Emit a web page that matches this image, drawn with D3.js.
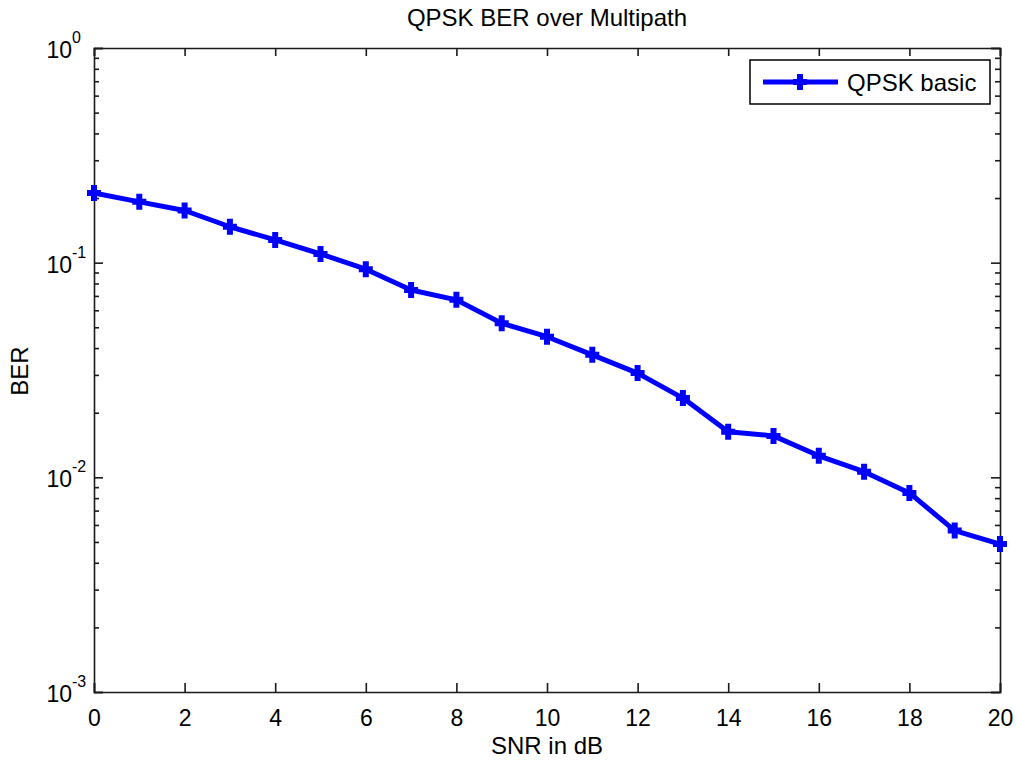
<!DOCTYPE html>
<html>
<head>
<meta charset="utf-8">
<script src="https://cdn.jsdelivr.net/npm/d3@7"></script>
<style>
  body { margin: 0; background: #fff; }
  text { font-family: "Liberation Sans", Arial, sans-serif; fill: #000; }
  .axis path, .axis line { stroke: #1a1a1a; }
</style>
</head>
<body>
<div id="chart"></div>
<script>
var width = 1017;
var height = 761;
var margin = {top:48,left:94,right:17,bottom:69};

// data
var snr = [0,1,2,3,4,5,6,7,8,9,10,11,12,13,14,15,16,17,18,19,20];
var ber = [0.211,0.192,0.175,0.147,0.1276,0.1098,0.0932,0.0746,0.0671,0.0522,0.0452,
           0.0372,0.0306,0.0234,0.0163,0.0156,0.0126,0.01063,0.00846,0.00565,0.00489];
var xTicks = [0,2,4,6,8,10,12,14,16,18,20];
var yTicks = [1e-3,1e-2,1e-1,1];
var yTickExp = ["-3","-2","-1","0"];
var seriesName = "QPSK basic";

var svg = d3.select("#chart")
  .append("svg")
  .attr("width",width)
  .attr("height",height);

var xScale = d3.scaleLinear()
  .domain([0,20])
  .range([margin.left,width-margin.right]);

var yScale = d3.scaleLog()
  .domain([1e-3,1])
  .range([height-margin.bottom,margin.top]);

// minor ticks on the log axis
var yMinor = [];
yTicks.slice(0,-1).forEach(function(d) {
  for (var k = 2; k <= 9; k++) yMinor.push(d*k);
});

// bottom axis with labels
svg.append("g")
  .attr("class","axis")
  .attr("transform",`translate(0,${height-margin.bottom})`)
  .call(d3.axisBottom(xScale).tickValues(xTicks).tickSize(-9).tickPadding(18).tickFormat(d3.format("d")))
  .call(g => g.selectAll("text").style("font-size","23px"));

// top axis ticks
svg.append("g")
  .attr("class","axis")
  .attr("transform",`translate(0,${margin.top})`)
  .call(d3.axisTop(xScale).tickValues(xTicks).tickSize(-8).tickFormat(""));

// left/right major + minor ticks
[["L",margin.left],["R",width-margin.right]].forEach(function(s) {
  var ax = s[0] == "L" ? d3.axisLeft : d3.axisRight;
  svg.append("g")
    .attr("class","axis")
    .attr("transform",`translate(${s[1]},0)`)
    .call(ax(yScale).tickValues(yTicks).tickSize(-9).tickFormat(""));
  svg.append("g")
    .attr("class","axis")
    .attr("transform",`translate(${s[1]},0)`)
    .call(ax(yScale).tickValues(yMinor).tickSize(-5).tickFormat(""))
    .call(g => g.select(".domain").remove());
});

svg.selectAll(".axis path, .axis line").attr("stroke-width",1.6);

// y tick labels as 10^n
var yLab = svg.append("g");
yTicks.forEach(function(d,i) {
  yLab.append("text")
    .attr("x",margin.left-22)
    .attr("y",yScale(d)+10)
    .attr("text-anchor","end")
    .style("font-size","23px")
    .text("10");
  yLab.append("text")
    .attr("x",margin.left-22)
    .attr("y",yScale(d)-5)
    .attr("text-anchor","start")
    .style("font-size","16px")
    .text(yTickExp[i]);
});

// title and axis labels
svg.append("text")
  .attr("x",(margin.left+width-margin.right)/2)
  .attr("y",26)
  .attr("text-anchor","middle")
  .style("font-size","24px")
  .text("QPSK BER over Multipath");

svg.append("text")
  .attr("x",(margin.left+width-margin.right)/2)
  .attr("y",754)
  .attr("text-anchor","middle")
  .style("font-size","24px")
  .text("SNR in dB");

svg.append("text")
  .attr("transform","translate(28,371) rotate(-90)")
  .attr("text-anchor","middle")
  .style("font-size","24px")
  .text("BER");

// series
var line = d3.line()
  .x(function(d,i) {return xScale(snr[i]);})
  .y(function(d) {return yScale(d);});

svg.append("path")
  .datum(ber)
  .attr("fill","none")
  .attr("stroke","#0000ff")
  .attr("stroke-width",5)
  .attr("stroke-linejoin","round")
  .attr("d",line);

var plus = "M-7,0H7M0,-8V8";

svg.selectAll(".mk")
  .data(ber)
  .enter()
  .append("path")
    .attr("class","mk")
    .attr("transform",function(d,i) {return `translate(${xScale(snr[i])},${yScale(d)})`;})
    .attr("d",plus)
    .attr("stroke","#0000ff")
    .attr("stroke-width",6)
    .attr("fill","none");

// legend
var lg = svg.append("g");
lg.append("rect")
  .attr("x",750).attr("y",60)
  .attr("width",240).attr("height",44)
  .attr("fill","#fff")
  .attr("stroke","#000")
  .attr("stroke-width",1.5);
lg.append("line")
  .attr("x1",763).attr("x2",838)
  .attr("y1",82).attr("y2",82)
  .attr("stroke","#0000ff")
  .attr("stroke-width",5);
lg.append("path")
  .attr("transform","translate(800,82)")
  .attr("d",plus)
  .attr("stroke","#0000ff")
  .attr("stroke-width",6);
lg.append("text")
  .attr("x",847).attr("y",91)
  .style("font-size","24px")
  .text(seriesName);
</script>
</body>
</html>
